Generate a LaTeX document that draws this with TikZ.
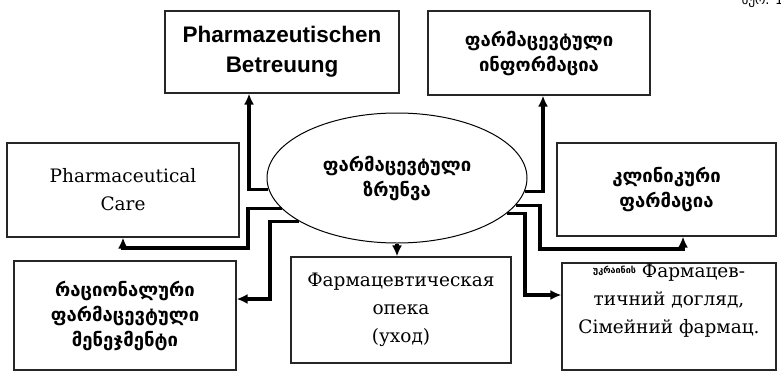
\documentclass[tikz,border=0pt]{standalone}
\usepackage{fontspec}
\setmainfont{DejaVu Serif}
\newfontfamily\geofont{DejaVu Sans}
\newfontfamily\headfont{Liberation Sans}
\usetikzlibrary{arrows.meta,shapes.geometric}
\begin{document}
\begin{tikzpicture}
    [x=1pt,y=-1pt,
     box/.style={draw=black!85,line width=1.1pt,align=center,inner sep=0pt},
     link/.style={-{Latex[length=11pt,width=10pt]},line width=3.2pt},
     geo/.style={font=\geofont\bfseries\fontsize{18.5}{25}\selectfont},
     lat/.style={font=\fontsize{18.5}{28}\selectfont}]
    \useasboundingbox (0,0) rectangle (781,372);
    \node [anchor=base west] (fig) at (738,5) {\geofont\fontsize{13}{15}\selectfont სურ. 1};
    % boxes
    \node [box,minimum width=234pt,minimum height=82pt,
      font=\headfont\bfseries\fontsize{22.5}{30}\selectfont] (betr) at (282,52)
      {Pharmazeutischen\\Betreuung};
    \node [box,geo,minimum width=222pt,minimum height=84pt] (info) at (539,53)
      {ფარმაცევტული\\ინფორმაცია};
    \node [box,lat,minimum width=232pt,minimum height=94pt] (care) at (123,190)
      {Pharmaceutical\\Care};
    \node [box,geo,minimum width=219pt,minimum height=93pt] (clin) at (666.5,189.5)
      {კლინიკური\\ფარმაცია};
    \node [box,geo,minimum width=222pt,minimum height=109pt] (ratio) at (125,315.5)
      {რაციონალური\\ფარმაცევტული\\მენეჯმენტი};
    \node [box,lat,minimum width=220pt,minimum height=106pt] (opeka) at (401,310)
      {Фармацевтическая\\опека\\(уход)};
    \node [box,minimum width=214pt,minimum height=107pt] (ukr) at (669,316.5) {};
    \node [lat,align=center] (ukrtext) at (669,301)
      {{\geofont\bfseries\fontsize{9}{11}\selectfont\raisebox{4pt}{უკრაინის}}\ Фармацев-\\тичний догляд,\\Сімейний фармац.};
    % centre
    \node [ellipse,draw,line width=1pt,geo,align=center,minimum width=260pt,
      minimum height=130pt,inner sep=0pt] (ell) at (397,178) {ფარმაცევტული\\ზრუნვა};
    % connectors
    \draw [link] (ell.185) -| ([xshift=-33pt]betr.south);
    \draw [link] (ell.354) -| ([xshift=4pt]info.south);
    \draw [link] (ell.195) -| (248,248) -| (care.south);
    \draw [link] (ell.204) -| (270,299) -- (ratio.east |- 270,299);
    \draw [link] (ell.south) -- (ell.south |- opeka.north);
    \draw [link] (ell.347) -| (540,249) -| ([xshift=16.5pt]clin.south);
    \draw [link] (ell.342) -| (525,295) -- (ukr.west |- 525,295);
\end{tikzpicture}
\end{document}
